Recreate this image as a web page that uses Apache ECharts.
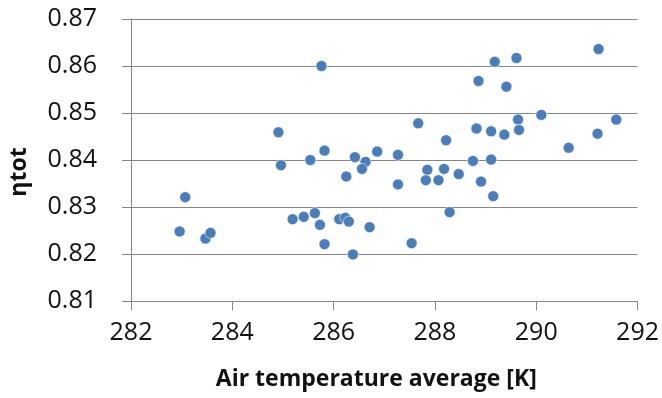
<!DOCTYPE html>
<html>
<head>
<meta charset="utf-8">
<script src="https://cdn.jsdelivr.net/npm/echarts@6/dist/echarts.min.js"></script>
<style>
  html, body { margin: 0; padding: 0; background: #fff; }
  #chart { width: 662px; height: 398px; }
</style>
</head>
<body>
<div id="chart"></div>
<script>
// Average air temperature [K] of each run
var airTemp = [
  285.76, 284.91, 284.96, 285.82, 285.54, 286.42, 286.63, 286.56, 286.86, 287.27,
  286.25, 287.27, 283.07, 282.96, 283.47, 283.57, 285.19, 285.41, 285.63, 285.73,
  286.11, 286.23, 286.30, 285.82, 286.38, 286.71, 287.67, 287.54, 288.22, 287.85,
  287.82, 288.07, 288.18, 288.47, 288.29, 288.75, 288.82, 288.86, 288.91, 289.11,
  289.11, 289.15, 289.18, 289.37, 289.41, 289.61, 289.64, 289.66, 290.10, 290.64,
  291.23, 291.21, 291.58
];
// Total efficiency ηtot of each run
var etaTot = [
  0.8600, 0.8459, 0.8389, 0.8420, 0.8400, 0.8406, 0.8396, 0.8381, 0.8418, 0.8411,
  0.8365, 0.8348, 0.8321, 0.8248, 0.8233, 0.8245, 0.8274, 0.8279, 0.8287, 0.8262,
  0.8274, 0.8277, 0.8269, 0.8221, 0.8199, 0.8257, 0.8478, 0.8223, 0.8442, 0.8379,
  0.8357, 0.8357, 0.8381, 0.8370, 0.8289, 0.8398, 0.8467, 0.8568, 0.8354, 0.8461,
  0.8401, 0.8323, 0.8609, 0.8454, 0.8556, 0.8617, 0.8486, 0.8464, 0.8496, 0.8426,
  0.8636, 0.8456, 0.8486
];
var xTicks = [282, 284, 286, 288, 290, 292];
var yTicks = [0.81, 0.82, 0.83, 0.84, 0.85, 0.86, 0.87];

var points = airTemp.map(function (t, i) { return [t, etaTot[i]]; });

var axisGray = '#868686';
var labelFont = { fontFamily: 'Open Sans', fontSize: 25, color: '#111' };

var chart = echarts.init(document.getElementById('chart'), null, { renderer: 'canvas' });
chart.setOption({
  animation: false,
  backgroundColor: '#fff',
  grid: { left: 123, right: 23, top: 19, bottom: 97, containLabel: false },
  xAxis: {
    type: 'value',
    min: xTicks[0],
    max: xTicks[xTicks.length - 1],
    interval: 2,
    name: 'Air temperature average [K]',
    nameLocation: 'middle',
    nameGap: 67,
    nameTextStyle: { fontFamily: 'Open Sans', fontWeight: 'bold', fontSize: 23, color: '#111', padding: [0, 16, 0, 0] },
    axisLine: { show: true, lineStyle: { color: axisGray, width: 1 } },
    axisTick: { show: true, inside: false, length: 9, lineStyle: { color: axisGray } },
    axisLabel: Object.assign({ margin: 19 }, labelFont),
    splitLine: { show: false }
  },
  yAxis: {
    type: 'value',
    min: yTicks[0],
    max: yTicks[yTicks.length - 1],
    interval: 0.01,
    name: 'ηtot',
    nameLocation: 'middle',
    nameGap: 100,
    nameRotate: 90,
    nameTextStyle: { fontFamily: 'Open Sans', fontWeight: 'bold', fontSize: 23, color: '#111', padding: [0, 24, 0, 0] },
    axisLine: { show: true, onZero: false, lineStyle: { color: axisGray, width: 1 } },
    axisTick: { show: true, inside: false, length: 9, lineStyle: { color: axisGray } },
    axisLabel: Object.assign({
      margin: 34,
      formatter: function (v) { return v.toFixed(2); }
    }, labelFont),
    splitLine: { show: true, lineStyle: { color: axisGray, width: 1 } }
  },
  series: [{
    type: 'scatter',
    data: points,
    symbol: 'circle',
    symbolSize: 11,
    itemStyle: { color: '#4a7ebb', borderColor: 'rgba(255,255,255,0.7)', borderWidth: 0.8, opacity: 1 }
  }]
});
</script>
</body>
</html>
